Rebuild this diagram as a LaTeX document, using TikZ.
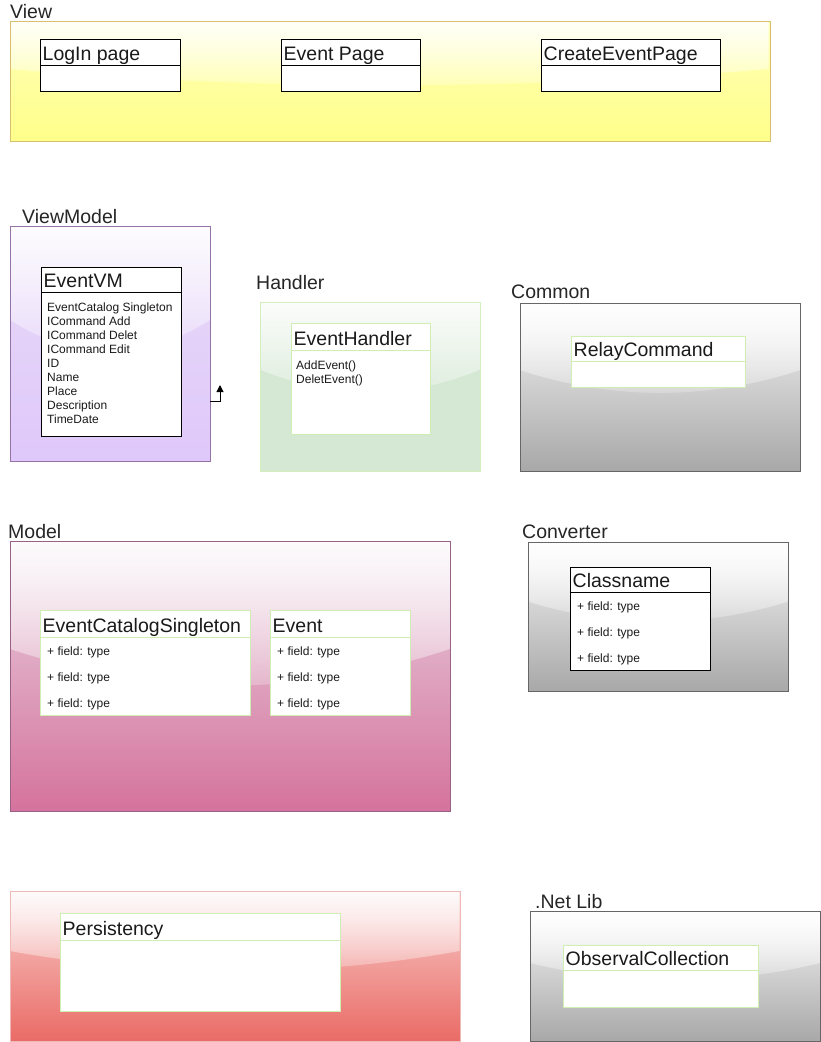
\documentclass[tikz,border=0pt]{standalone}
\usepackage{fontspec}
\setmainfont{Liberation Sans}
\usetikzlibrary{arrows.meta,fadings}
\tikzfading[name=glassfade, top color=transparent!8, bottom color=transparent!82]
\definecolor{txt}{HTML}{1A1A1A}
\definecolor{lblc}{HTML}{262626}
\definecolor{clsgreen}{HTML}{CFEFB2}
\newcommand\mkcont[8]{%
  \definecolor{#1top}{HTML}{#6}%
  \definecolor{#1bot}{HTML}{#7}%
  \definecolor{#1brd}{HTML}{#8}%
  \node[inner sep=0pt, outer sep=0pt, anchor=north west,
        minimum width={(#4-#2)*1pt}, minimum height={(#5-#3)*1pt},
        top color=#1top, bottom color=#1bot] (#1) at (#2,#3) {};
  \fill[white, path fading=glassfade] (#2,#3) -- (#2,{#3+0.4*(#5-#3)})
     .. controls ({#2+(#4-#2)/3},{#3+0.58*(#5-#3)}) and ({#2+2*(#4-#2)/3},{#3+0.58*(#5-#3)})
     .. (#4,{#3+0.4*(#5-#3)}) -- (#4,#3) -- cycle;
  \draw[draw=#1brd, line width=1pt] (#1.north west) rectangle (#1.south east);
}
\newcommand\mkclass[8]{%
  \node[fill=white, draw=#8, line width=1pt, inner sep=0pt, outer sep=0pt, anchor=north west,
        minimum width={(#4-#2)*1pt}, minimum height={(#5-#3)*1pt}] (#1) at (#2,#3) {};
  \draw[draw=#8, line width=1pt] (#1.west |- 0,#6) -- (#1.east |- 0,#6);
  \node[ttl] (#1-t) at ({#2+2.5},{#6-4.5}) {#7};
}
\tikzset{
  ttl/.style={anchor=base west, inner sep=0pt, text=txt, font=\fontsize{19.5}{22}\selectfont},
  fld/.style={anchor=base west, inner sep=0pt, text=txt, font=\fontsize{12}{14}\selectfont},
  lbl/.style={anchor=base west, inner sep=0pt, text=lblc, font=\fontsize{19.5}{22}\selectfont},
}
\begin{document}
\begin{tikzpicture}[x=1pt,y=-1pt]
\useasboundingbox[fill=white] (0,0) rectangle (821,1042);

% ---------- View ----------
\mkcont{view}{10}{21}{770}{141}{FFFFB8}{FFFF8A}{D6C070}
\node[lbl] (viewl) at (10,18) {View};
\mkclass{login}{40}{39}{180}{91}{65}{LogIn page}{black}
\mkclass{eventpage}{281}{39}{420}{91}{65}{Event Page}{black}
\mkclass{createpage}{541}{39}{720}{91}{65}{CreateEventPage}{black}

% ---------- ViewModel ----------
\mkcont{vm}{10}{226}{210}{461}{E8DAF8}{DFC8FA}{9673A6}
\node[lbl] (vml) at (22,223) {ViewModel};
\mkclass{eventvm}{41}{267}{181}{436}{292}{EventVM}{black}
\node[fld] (f1) at (47,311) {EventCatalog Singleton};
\node[fld] (f2) at (47,325) {ICommand Add};
\node[fld] (f3) at (47,339) {ICommand Delet};
\node[fld] (f4) at (47,353) {ICommand Edit};
\node[fld] (f5) at (47,367) {ID};
\node[fld] (f6) at (47,381) {Name};
\node[fld] (f7) at (47,395) {Place};
\node[fld] (f8) at (47,409) {Description};
\node[fld] (f9) at (47,423) {TimeDate};
\coordinate (bend) at (220,401);
\coordinate (tip) at (220,385);
\draw[line width=1pt, -{Triangle[length=7pt,width=7pt]}] (vm.east |- bend) -- (bend) -- (tip);

% ---------- Handler ----------
\mkcont{handler}{260}{302}{480}{471}{D5E8D4}{D5E8D4}{D3EFBE}
\node[lbl] (handlerl) at (256,289) {Handler};
\mkclass{evhandler}{291}{323}{430}{434}{350}{EventHandler}{clsgreen}
\node[fld] (h1) at (296,369) {AddEvent()};
\node[fld] (h2) at (296,383) {DeletEvent()};

% ---------- Common ----------
\mkcont{common}{520}{303}{800}{471}{F5F5F5}{A8A8A8}{666666}
\node[lbl] (commonl) at (511,298) {Common};
\mkclass{relay}{571}{336}{745}{387}{361}{RelayCommand}{clsgreen}

% ---------- Model ----------
\mkcont{model}{10}{541}{450}{811}{E8D2E0}{D5739D}{996185}
\node[lbl] (modell) at (8,538) {Model};
\mkclass{catalog}{40}{610}{250}{715}{637}{EventCatalogSingleton}{clsgreen}
\node[fld] (c1) at (47,655) {+ field: type};
\node[fld] (c2) at (47,681) {+ field: type};
\node[fld] (c3) at (47,707) {+ field: type};
\mkclass{event}{270}{610}{410}{715}{637}{Event}{clsgreen}
\node[fld] (e1) at (277,655) {+ field: type};
\node[fld] (e2) at (277,681) {+ field: type};
\node[fld] (e3) at (277,707) {+ field: type};

% ---------- Converter ----------
\mkcont{conv}{528}{542}{788}{691}{F5F5F5}{A8A8A8}{666666}
\node[lbl] (convl) at (522,538) {Converter};
\mkclass{classname}{570}{567}{710}{670}{592}{Classname}{black}
\node[fld] (k1) at (577,610) {+ field: type};
\node[fld] (k2) at (577,636) {+ field: type};
\node[fld] (k3) at (577,662) {+ field: type};

% ---------- Persistency ----------
\mkcont{pers}{10}{891}{460}{1041}{F8CECC}{EA6B66}{EDB8B6}
\mkclass{persist}{60}{913}{340}{1011}{940}{Persistency}{clsgreen}

% ---------- .Net Lib ----------
\mkcont{netlib}{530}{911}{820}{1041}{F5F5F5}{A8A8A8}{666666}
\node[lbl] (netl) at (535,908) {.Net Lib};
\mkclass{observ}{563}{945}{758}{1007}{970}{ObservalCollection}{clsgreen}
\end{tikzpicture}
\end{document}
